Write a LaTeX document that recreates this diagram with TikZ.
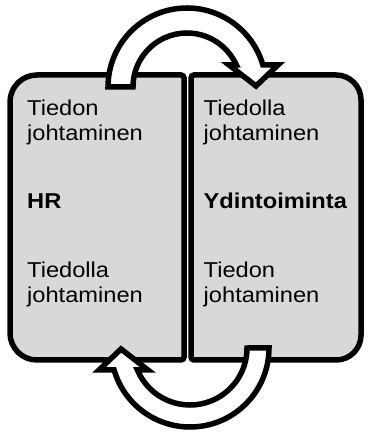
\documentclass[tikz,border=0pt]{standalone}
\usepackage{fontspec}
\setmainfont{Liberation Sans}[FakeStretch=1.1]
\definecolor{boxgray}{RGB}{215,217,217}

\tikzset{
  boxline/.style={draw=black, line width=5.5bp, fill=boxgray},
  txt/.style={anchor=base west, inner sep=0pt, align=left,
    font=\fontsize{21.5bp}{25.3bp}\selectfont},
  % curved block arrow, tail on the left, head on the right
  pics/bendarrow/.style={code={
    \draw[line width=5.5bp, fill=white, line join=miter]
      (180:79) arc[start angle=180, end angle={asin(22/79)}, radius=79]
      -- (91,22) -- (69,1) -- (42,22) -- ({sqrt(#1*#1-22*22)},22)
      arc[start angle={asin(22/#1)}, end angle=180, radius=#1] -- cycle;
  }}
}

\begin{document}
\begin{tikzpicture}[x=1bp,y=1bp]
\useasboundingbox (0,0) rectangle (367,434);

% the two halves
\draw[boxline] (97,359) [rounded corners=3] -- (184,359) -- (184,74) -- (97,74)
  [rounded corners=27] -- (10,74) -- (10,359) -- cycle;
\draw[boxline] (276,359) [rounded corners=3] -- (191,359) -- (191,74) -- (276,74)
  [rounded corners=25] -- (361,74) -- (361,359) -- cycle;

% left side (base = last line)
\node[txt] (hrtop) at (27,293) {Tiedon\\johtaminen};
\node[txt] (hr) at (27,225) {\bfseries HR};
\node[txt] (hrbot) at (27,131) {Tiedolla\\johtaminen};

% right side
\node[txt] (ydtop) at (203.5,293) {Tiedolla\\johtaminen};
\node[txt] (yd) at (203.5,225) {\bfseries Ydintoiminta};
\node[txt] (ydbot) at (203.5,131) {Tiedon\\johtaminen};

% arrows between the halves
\pic at (187,347) {bendarrow=54};
\pic[rotate=180] at (190,86) {bendarrow=57};
\end{tikzpicture}
\end{document}
